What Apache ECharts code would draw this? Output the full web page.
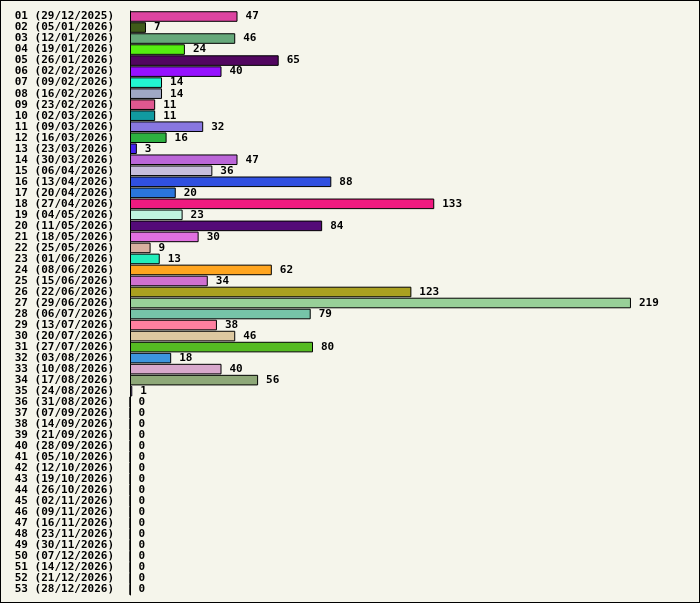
<!DOCTYPE html>
<html>
<head>
<meta charset="utf-8">
<script src="https://cdn.jsdelivr.net/npm/echarts@6/dist/echarts.min.js"></script>
<style>
  html, body { margin: 0; padding: 0; background: #f5f5eb; }
  #chart { width: 698px; height: 601px; border: 1px solid #000; }
</style>
</head>
<body>
<div id="chart"></div>
<script>
  const weeks = [
    "29/12/2025", "05/01/2026", "12/01/2026", "19/01/2026", "26/01/2026", "02/02/2026",
    "09/02/2026", "16/02/2026", "23/02/2026", "02/03/2026", "09/03/2026", "16/03/2026",
    "23/03/2026", "30/03/2026", "06/04/2026", "13/04/2026", "20/04/2026", "27/04/2026",
    "04/05/2026", "11/05/2026", "18/05/2026", "25/05/2026", "01/06/2026", "08/06/2026",
    "15/06/2026", "22/06/2026", "29/06/2026", "06/07/2026", "13/07/2026", "20/07/2026",
    "27/07/2026", "03/08/2026", "10/08/2026", "17/08/2026", "24/08/2026", "31/08/2026",
    "07/09/2026", "14/09/2026", "21/09/2026", "28/09/2026", "05/10/2026", "12/10/2026",
    "19/10/2026", "26/10/2026", "02/11/2026", "09/11/2026", "16/11/2026", "23/11/2026",
    "30/11/2026", "07/12/2026", "14/12/2026", "21/12/2026", "28/12/2026"
  ];
  const counts = [
    47, 7, 46, 24, 65, 40, 14, 14, 11, 11, 32, 16, 3, 47, 36, 88, 20, 133,
    23, 84, 30, 9, 13, 62, 34, 123, 219, 79, 38, 46, 80, 18, 40, 56, 1, 0,
    0, 0, 0, 0, 0, 0, 0, 0, 0, 0, 0, 0, 0, 0, 0, 0, 0
  ];
  const barColors = [
    "#dd44a0", "#3f5b1a", "#66a87a", "#55ee11", "#520660", "#9611ff",
    "#22f5d0", "#a0a8c4", "#e05890", "#119aa0", "#8877e0", "#2db040",
    "#4422ee", "#bb66d8", "#c8bedc", "#3050e0", "#2a75dc", "#f01a80",
    "#c0f5e0", "#540a78", "#e070e0", "#d8b0a0", "#22eebb", "#ffa520",
    "#d070d0", "#aaa020", "#98d098", "#76c4a8", "#ff80a0", "#ddc8a0",
    "#55bb22", "#3d95dd", "#d8a8cc", "#8ea878", "#9977dd", "#888888"
  ];

  const labels = weeks.map((d, i) => String(i + 1).padStart(2, "0") + " (" + d + ")");
  const font = "'DejaVu Sans Mono', monospace";

  const chart = echarts.init(document.getElementById("chart"));
  chart.setOption({
    backgroundColor: "#f5f5eb",
    animation: false,
    grid: { left: 129, right: 20, top: 10, bottom: 7 },
    xAxis: {
      type: "value", min: 0, max: 240, show: false
    },
    yAxis: {
      type: "category",
      inverse: true,
      data: labels,
      axisLine: { show: true, lineStyle: { color: "#000", width: 1 } },
      axisTick: { show: false },
      axisLabel: {
        color: "#000", fontFamily: font, fontWeight: "bold", fontSize: 11,
        margin: 16, interval: 0
      }
    },
    series: [{
      type: "bar",
      barCategoryGap: "4%",
      data: counts.map((v, i) => ({
        value: v,
        itemStyle: { color: barColors[i] || "#888888" }
      })),
      itemStyle: { borderColor: "#000", borderWidth: 1 },
      label: {
        show: true, position: "right", distance: 8,
        color: "#000", fontFamily: font, fontWeight: "bold", fontSize: 11
      }
    }]
  });
</script>
</body>
</html>
